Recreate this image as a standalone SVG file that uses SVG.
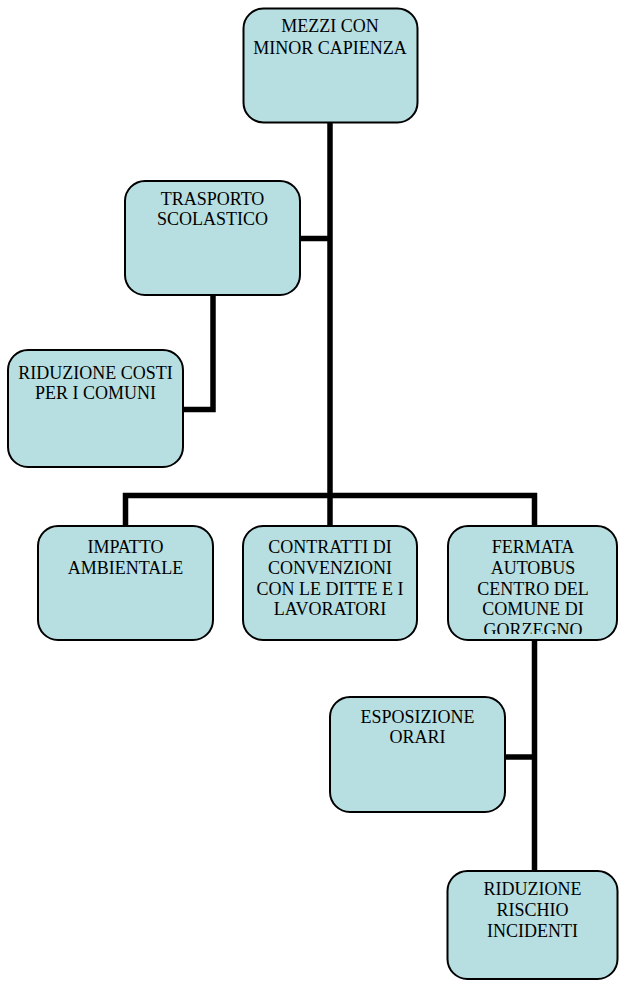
<svg xmlns="http://www.w3.org/2000/svg" width="619" height="982" viewBox="0 0 619 982">
<style>
.box{fill:#b7dfe1;stroke:#000;stroke-width:2}
.t{font-family:"Liberation Serif","Times New Roman",serif;font-size:18px;fill:#000;text-anchor:middle}
.c{fill:none;stroke:#000;stroke-width:5.5;stroke-linejoin:miter}
</style>
<defs>
<clipPath id="clipF"><rect x="448" y="526" width="170" height="108"/></clipPath>
</defs>
<rect width="619" height="982" fill="#fff"/>
<g id="connectors">
<path class="c" d="M330 123 V495.5"/>
<path class="c" d="M300 238.5 H330"/>
<path class="c" d="M213 295 V409.5 H183"/>
<path class="c" d="M125.5 526 V495.5 H534.5 V526"/>
<path class="c" d="M330 495.5 V526"/>
<path class="c" d="M534.5 640 V871"/>
<path class="c" d="M505 757 H534.5"/>
</g>
<g id="n-mezzi">
<rect class="box" x="243.5" y="8.5" width="174" height="114" rx="20"/>
<text class="t" x="330" y="32">MEZZI CON</text>
<text class="t" x="330" y="54">MINOR CAPIENZA</text>
</g>
<g id="n-trasporto">
<rect class="box" x="125" y="181" width="175" height="114" rx="20"/>
<text class="t" x="212.5" y="205">TRASPORTO</text>
<text class="t" x="212.5" y="225">SCOLASTICO</text>
</g>
<g id="n-costi">
<rect class="box" x="8" y="350" width="175" height="117" rx="20"/>
<text class="t" x="95.5" y="379">RIDUZIONE COSTI</text>
<text class="t" x="95.5" y="399">PER I COMUNI</text>
</g>
<g id="n-impatto">
<rect class="box" x="38" y="526" width="175" height="114" rx="20"/>
<text class="t" x="125.5" y="553">IMPATTO</text>
<text class="t" x="125.5" y="574">AMBIENTALE</text>
</g>
<g id="n-contratti">
<rect class="box" x="243" y="526" width="174" height="114" rx="20"/>
<text class="t" x="330" y="553">CONTRATTI DI</text>
<text class="t" x="330" y="574">CONVENZIONI</text>
<text class="t" x="330" y="595">CON LE DITTE E I</text>
<text class="t" x="330" y="615">LAVORATORI</text>
</g>
<g id="n-fermata">
<rect class="box" x="448" y="526" width="169" height="114" rx="20"/>
<g clip-path="url(#clipF)">
<text class="t" x="533" y="553">FERMATA</text>
<text class="t" x="533" y="574">AUTOBUS</text>
<text class="t" x="533" y="595">CENTRO DEL</text>
<text class="t" x="533" y="615">COMUNE DI</text>
<text class="t" x="533" y="636">GORZEGNO</text>
</g>
</g>
<g id="n-esposizione">
<rect class="box" x="330" y="697" width="175" height="115" rx="20"/>
<text class="t" x="417.5" y="723">ESPOSIZIONE</text>
<text class="t" x="417.5" y="743">ORARI</text>
</g>
<g id="n-rischio">
<rect class="box" x="447.5" y="871" width="170" height="108" rx="20"/>
<text class="t" x="532.5" y="895">RIDUZIONE</text>
<text class="t" x="532.5" y="916">RISCHIO</text>
<text class="t" x="532.5" y="937">INCIDENTI</text>
</g>
</svg>
